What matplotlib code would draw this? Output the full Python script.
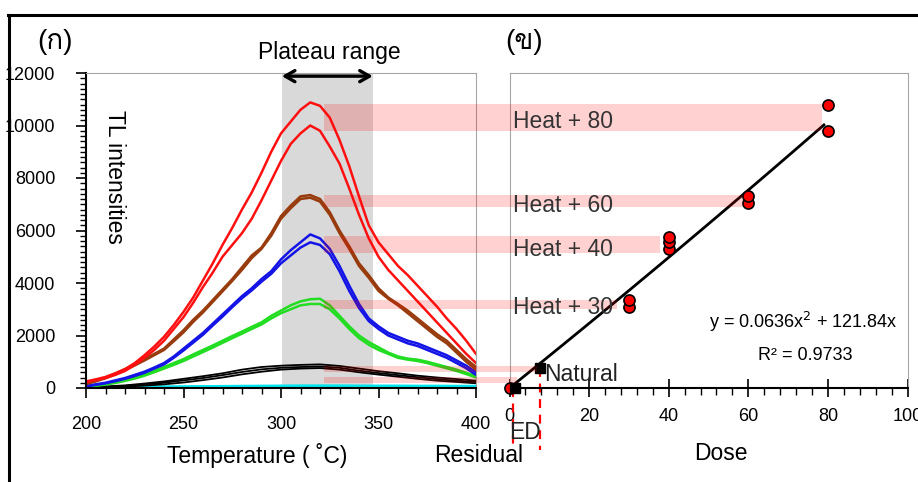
import numpy as np
import matplotlib
matplotlib.use("Agg")
import matplotlib.pyplot as plt
from matplotlib import font_manager, ft2font
from matplotlib.patches import Rectangle
from matplotlib.lines import Line2D
from matplotlib.ticker import MultipleLocator

# find a font with thai glyphs for (ก) / (ข)
thai_font = None
for f in font_manager.fontManager.ttflist:
    try:
        if 0x0E01 in ft2font.FT2Font(f.fname).get_charmap():
            thai_font = f.name
            break
    except Exception:
        pass
fams = ['Liberation Sans', 'DejaVu Sans']
if thai_font:
    fams = ['Liberation Sans', thai_font, 'DejaVu Sans']
plt.rcParams['font.family'] = fams

# ---------------- data ----------------
temp5 = list(range(200, 405, 5))
red_hi = [250, 330, 420, 560, 720, 950, 1250, 1580, 1950, 2400, 2900, 3450, 4100, 4750, 5450,
          6100, 6800, 7450, 8200, 9000, 9700, 10150, 10600, 10880, 10750, 10300, 9450, 8450, 7300,
          6200, 5550, 5100, 4650, 4300, 3900, 3500, 3100, 2650, 2250, 1800, 1300]
red_lo = [220, 300, 380, 500, 650, 880, 1150, 1450, 1800, 2250, 2700, 3250, 3850, 4400, 5000,
          5450, 5900, 6450, 7150, 7900, 8650, 9300, 9700, 10000, 9800, 9200, 8550, 7600, 6600,
          5700, 5000, 4500, 4100, 3700, 3300, 2900, 2500, 2100, 1700, 1300, 950]
brown_a = [180, 280, 400, 550, 720, 900, 1100, 1300, 1500, 1850, 2200, 2600, 2950, 3350, 3750,
           4150, 4600, 5050, 5350, 5900, 6550, 6950, 7300, 7350, 7200, 6700, 6000, 5400, 4750,
           4300, 3800, 3450, 3200, 2950, 2650, 2350, 2050, 1800, 1450, 1100, 800]
brown_b = [150, 250, 370, 520, 680, 860, 1050, 1250, 1450, 1780, 2120, 2520, 2880, 3280, 3680,
           4080, 4500, 4950, 5300, 5800, 6450, 6850, 7200, 7250, 7100, 6600, 5900, 5300, 4650,
           4200, 3700, 3400, 3150, 2850, 2550, 2250, 1950, 1700, 1350, 1000, 700]
blue_a = [80, 140, 200, 290, 380, 500, 620, 780, 950, 1200, 1500, 1800, 2100, 2450, 2800,
          3150, 3500, 3800, 4150, 4450, 4900, 5250, 5550, 5850, 5700, 5300, 4650, 3900, 3200,
          2650, 2350, 2100, 1950, 1800, 1700, 1550, 1400, 1250, 1050, 850, 600]
blue_b = [60, 120, 180, 260, 350, 460, 580, 740, 900, 1150, 1430, 1730, 2030, 2380, 2720,
          3080, 3420, 3720, 4050, 4350, 4750, 5050, 5350, 5550, 5450, 5100, 4450, 3700, 3050,
          2550, 2250, 2000, 1850, 1700, 1600, 1450, 1300, 1150, 950, 750, 500]
green_a = [60, 100, 150, 220, 300, 400, 520, 650, 800, 950, 1100, 1280, 1450, 1620, 1800,
           1980, 2150, 2330, 2500, 2750, 2950, 3150, 3300, 3380, 3400, 3150, 2750, 2350, 2000,
           1750, 1550, 1350, 1200, 1120, 1080, 1000, 900, 800, 700, 580, 450]
green_b = [40, 80, 130, 190, 270, 360, 470, 600, 740, 880, 1030, 1200, 1370, 1540, 1720,
           1900, 2070, 2250, 2420, 2650, 2850, 3000, 3150, 3200, 3200, 3000, 2650, 2250, 1900,
           1650, 1450, 1300, 1150, 1080, 1030, 950, 850, 750, 650, 530, 400]

temp10 = list(range(200, 410, 10))
black_a = [30, 60, 100, 170, 250, 350, 450, 560, 700, 800, 850, 880, 900, 840, 740, 640, 560, 470, 400, 340, 280]
black_b = [20, 40, 80, 130, 200, 290, 380, 490, 610, 710, 770, 800, 820, 770, 660, 570, 490, 410, 340, 280, 230]
black_c = [10, 25, 50, 90, 140, 210, 300, 400, 520, 620, 700, 740, 760, 700, 600, 510, 430, 350, 280, 230, 180]
cyan = [30, 35, 40, 45, 50, 55, 60, 65, 70, 75, 80, 85, 85, 85, 80, 80, 80, 75, 75, 70, 70]
olive = [10, 10, 12, 12, 15, 15, 15, 18, 18, 18, 20, 20, 20, 20, 18, 18, 18, 15, 15, 15, 15]

plateau = [300.5, 347]

dose_pts = [0, 30, 30, 40, 40, 40, 60, 60, 80, 80]
tl_pts = [0, 3100, 3350, 5300, 5550, 5750, 7050, 7300, 9800, 10800]
sq_dose = [1.3, 7.55]   # residual, natural
sq_tl = [0, 750]
ed_lines = [1.0, 7.55]

fit_a, fit_b = 0.0636, 121.84
fit_end = 79

# pink bands: (low, high, end dose)
band_start = 322
band_lo = [9800, 6900, 5150, 3000, 600, 190]
band_hi = [10800, 7350, 5800, 3350, 840, 420]
band_end = [78.5, 58.6, 37.8, 27, 6.9, 2]

heat_labels = ['Heat + 80', 'Heat + 60', 'Heat + 40', 'Heat + 30']
heat_y = [10170, 6970, 5260, 3050]

# ---------------- figure ----------------
W, H = 918, 482
fig = plt.figure(figsize=(W / 100, H / 100), dpi=100)

def fx(px):
    return px / W

def fy(py):
    return 1 - py / H

fig.add_artist(Line2D([fx(8), 1], [fy(15), fy(15)], transform=fig.transFigure, color='black', lw=2.2))
fig.add_artist(Line2D([fx(9), fx(9)], [0, fy(15)], transform=fig.transFigure, color='black', lw=2.2))

ax1 = fig.add_axes([fx(86), fy(388), fx(390), 315 / H])
ax2 = fig.add_axes([fx(509.5), fy(388), fx(398), 315 / H])

# left plot: glow curves
ax1.axvspan(plateau[0], plateau[1], color='#d9d9d9', lw=0, zorder=0)
ax1.plot(temp10, olive, color='#b5a400', lw=1.5)
ax1.plot(temp10, cyan, color='#00e5ee', lw=2)
for ys in [black_a, black_b, black_c]:
    ax1.plot(temp10, ys, color='black', lw=1.3)
ax1.plot(temp5, green_a, color='#22dd22', lw=1.8)
ax1.plot(temp5, green_b, color='#22dd22', lw=1.8)
ax1.plot(temp5, blue_a, color='#1414e6', lw=1.8)
ax1.plot(temp5, blue_b, color='#1414e6', lw=1.8)
ax1.plot(temp5, brown_a, color='#983c0e', lw=1.8)
ax1.plot(temp5, brown_b, color='#983c0e', lw=1.8)
ax1.plot(temp5, red_hi, color='#ff1010', lw=1.8)
ax1.plot(temp5, red_lo, color='#ff1010', lw=1.8)

ax1.set_xlim(200, 400)
ax1.set_ylim(0, 12000)
ax1.xaxis.set_major_locator(MultipleLocator(50))
ax1.xaxis.set_minor_locator(MultipleLocator(10))
ax1.yaxis.set_major_locator(MultipleLocator(2000))
ax1.yaxis.set_minor_locator(MultipleLocator(200))
ax1.tick_params(which='major', direction='out', length=7, width=1.2, labelsize=13)
ax1.tick_params(which='minor', direction='out', length=4, width=1.0)
ax1.tick_params(axis='x', pad=13)
ax1.tick_params(axis='y', pad=15)
for s in ['top', 'right']:
    ax1.spines[s].set_color('#a6a6a6')
for s in ['left', 'bottom']:
    ax1.spines[s].set_linewidth(1.5)

ax1.annotate('', xy=(348.5, 11880), xytext=(299, 11880),
             arrowprops=dict(arrowstyle='<->, head_length=0.7, head_width=0.4', lw=2.4, color='black'),
             annotation_clip=False)

# right plot: dose response
xfit = np.linspace(0, fit_end, 60)
ax2.plot(xfit, fit_a * xfit ** 2 + fit_b * xfit, color='black', lw=2)
ax2.plot(dose_pts, tl_pts, 'o', mfc='#ff0000', mec='black', ms=8, mew=1.2, clip_on=False, zorder=4)
ax2.plot(sq_dose, sq_tl, 's', color='black', ms=7.5, clip_on=False, zorder=5)
ax2.plot([ed_lines[0]] * 2, [0, -2360], '--', color='#ff0000', lw=1.6, clip_on=False, dashes=(4, 3))
ax2.plot([ed_lines[1]] * 2, [sq_tl[1], -2360], '--', color='#ff0000', lw=1.6, clip_on=False, dashes=(4, 3))

ax2.set_xlim(0, 100)
ax2.set_ylim(0, 12000)
ax2.set_yticks([])
ax2.xaxis.set_major_locator(MultipleLocator(20))
ax2.xaxis.set_minor_locator(MultipleLocator(4))
ax2.tick_params(which='major', direction='inout', length=13, width=1.2, labelsize=13, pad=8)
ax2.tick_params(which='minor', direction='out', length=5, width=1.0)
for s in ['top', 'right', 'left']:
    ax2.spines[s].set_color('#a6a6a6')
ax2.spines['bottom'].set_linewidth(1.5)

# pink bands across both plots
inv = fig.transFigure.inverted()
for lo, hi, end in zip(band_lo, band_hi, band_end):
    p0 = inv.transform(ax1.transData.transform((band_start, lo)))
    p1 = inv.transform(ax2.transData.transform((end, hi)))
    fig.add_artist(Rectangle(p0, p1[0] - p0[0], p1[1] - p0[1], transform=fig.transFigure,
                             facecolor='#ff0000', alpha=0.18, lw=0, zorder=5))

for lab, yv in zip(heat_labels, heat_y):
    fig.text(0.8, yv, lab, transform=ax2.transData, fontsize=16.5, color='#333333',
             va='center', ha='left', zorder=6)

ax2.text(8.6, 500, 'Natural', fontsize=16.5, color='#222222', va='center', ha='left', clip_on=False)
ax2.text(3.8, -1700, 'ED', fontsize=16.5, color='#222222', va='center', ha='center', clip_on=False)

# labels
fig.text(fx(55), fy(42), '(ก)', fontsize=20, ha='center', va='center')
fig.text(fx(524), fy(42), '(ข)', fontsize=20, ha='center', va='center')
fig.text(fx(329), fy(52), 'Plateau range', fontsize=16.5, ha='center', va='center')
fig.text(fx(114), fy(177), 'TL intensities', fontsize=16.5, ha='center', va='center', rotation=-90)
fig.text(fx(257), fy(455), 'Temperature ( ˚C)', fontsize=16.5, ha='center', va='center')
fig.text(fx(479), fy(455), 'Residual', fontsize=16.5, ha='center', va='center')
fig.text(fx(721), fy(454), 'Dose', fontsize=16.5, ha='center', va='center')
fig.text(fx(803), fy(322), 'y = 0.0636x$^2$ + 121.84x', fontsize=13, ha='center', va='center')
fig.text(fx(805), fy(355), 'R² = 0.9733', fontsize=13, ha='center', va='center')

fig.savefig('out.png', dpi=100)
